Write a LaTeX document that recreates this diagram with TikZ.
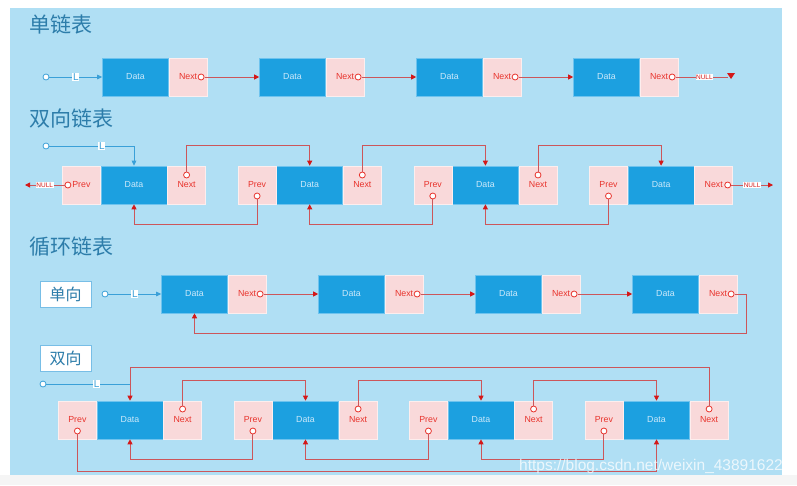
\documentclass[tikz,border=0pt]{standalone}
\usepackage{fontspec}
\setmainfont{Liberation Sans}
\newfontfamily\cjk{Noto Sans CJK SC}
\usetikzlibrary{
    positioning,
    arrows.meta
    }

\definecolor{panel}{RGB}{176,223,244}
\definecolor{bottomgray}{RGB}{245,245,245}
\definecolor{titleblue}{RGB}{45,125,170}
\definecolor{databg}{RGB}{28,160,224}
\definecolor{dataedge}{RGB}{110,195,238}
\definecolor{datatext}{RGB}{205,233,250}
\definecolor{ptrbg}{RGB}{249,217,218}
\definecolor{ptredge}{RGB}{253,238,238}
\definecolor{ptrtext}{RGB}{232,52,45}
\definecolor{linkred}{RGB}{204,86,90}
\definecolor{tipred}{RGB}{212,24,24}
\definecolor{headblue}{RGB}{58,160,216}
\definecolor{boxedge}{RGB}{120,190,230}

\begin{document}
\begin{tikzpicture}[x=1pt, y=-1pt]
\tikzset{data/.style =
        {
            rectangle,
            fill=databg,
            draw=dataedge,
            line width=0.6pt,
            minimum width=66pt,
            minimum height=38pt,
            inner sep=0pt,
            text=datatext,
            font=\fontsize{8.8}{10}\selectfont
        }
}

\tikzset{ptr/.style =
        {
            data,
            fill=ptrbg,
            draw=ptredge,
            minimum width=38pt,
            text=ptrtext
        }
}

\tikzset{port/.style =
        {
            circle,
            draw=ptrtext,
            fill=white,
            line width=0.8pt,
            minimum size=6pt,
            inner sep=0pt
        }
}

\tikzset{link/.style = {
            draw=linkred,
            line width=0.9pt,
            -{Triangle[length=5pt, width=5pt, color=tipred]}
        }
}

\tikzset{head/.style = {
            link,
            draw=headblue,
            -{Triangle[length=5pt, width=4.5pt, color=headblue]}
        }
}

\tikzset{lbl/.style = {
            fill=white,
            text=headblue,
            inner sep=0.8pt,
            font=\fontsize{10}{10}\selectfont
        }
}

\tikzset{nulllbl/.style = {
            fill=white,
            text=tipred,
            inner sep=0.5pt,
            font=\fontsize{6.5}{6.5}\selectfont
        }
}

\tikzset{title/.style = {
            anchor=west,
            inner sep=0pt,
            text=titleblue,
            font=\cjk\fontsize{21}{21}\selectfont
        }
}

\tikzset{tag/.style = {
            rectangle,
            fill=white,
            draw=boxedge,
            line width=0.8pt,
            minimum width=51pt,
            minimum height=26pt,
            text=titleblue,
            font=\cjk\fontsize{16}{16}\selectfont
        }
}

\useasboundingbox (0,0) rectangle (797,485);
\fill[white] (0,0) rectangle (797,485);
\fill[bottomgray] (0,475) rectangle (797,485);
\fill[panel] (10,8) rectangle (782,475);

\node[title] (t-single) at (29,24) {单链表};
\node[title] (t-double) at (29,119) {双向链表};
\node[title] (t-cycle) at (29,247) {循环链表};
\node[tag] (tag-single) at (65.5,294) {单向};
\node[tag] (tag-double) at (65.5,358) {双向};

% single list
\foreach \i in {1,...,4} {
    \node[data] (s-d\i) at ({135.5+157*(\i-1)},77) {Data};
    \node[ptr, right=0pt of s-d\i] (s-n\i) {Next};
    \node[port] (s-c\i) at ([xshift=13pt]s-n\i.center) {};
}
\foreach \i / \j in {1/2, 2/3, 3/4}
\draw[link] (s-c\i) -- (s-d\j);

\node[port, draw=headblue] (s-head) at (46,77) {};
\draw[head] (s-head) -- node[lbl] {L} (s-d1);

\coordinate (s-end) at (728,77);
\draw[link, -] (s-c4) -- node[nulllbl, pos=0.55] {NULL} (s-end);
\fill[tipred] ([shift={(-1,-4)}]s-end) -- ++(8,0) -- ++(-4,6) -- cycle;

% doubly linked list
\foreach \i in {1,...,4} {
    \node[data] (d-d\i) at ({134+175.7*(\i-1)},185) {Data};
    \node[ptr, left=0pt of d-d\i] (d-p\i) {Prev};
    \node[ptr, right=0pt of d-d\i] (d-n\i) {Next};
}
\foreach \i in {1,2,3}
\node[port] (d-nc\i) at ([yshift=10pt]d-n\i.center) {};
\foreach \i in {2,3,4}
\node[port] (d-pc\i) at ([yshift=-11pt]d-p\i.center) {};
\node[port] (d-pc1) at ([xshift=-13.5pt]d-p1.center) {};
\node[port] (d-nc4) at ([xshift=14pt]d-n4.center) {};

\foreach \i / \j in {1/2, 2/3, 3/4} {
    \draw[link] (d-nc\i.north) -- ++(0,-26) -| (d-d\j.north);
    \draw[link] (d-pc\j.south) -- ++(0,25) -| (d-d\i.south);
}

\node[port, draw=headblue] (d-head) at (46,146) {};
\draw[head] (d-head) -| node[lbl, pos=0.31] {L} (d-d1.north);

\coordinate (d-lend) at (25,185);
\coordinate (d-rend) at (773,185);
\draw[link] (d-pc1) -- node[nulllbl] {NULL} (d-lend);
\draw[link] (d-nc4) -- node[nulllbl] {NULL} (d-rend);

% circular, one way
\foreach \i in {1,...,4} {
    \node[data] (c-d\i) at ({194.5+157*(\i-1)},294) {Data};
    \node[ptr, right=0pt of c-d\i] (c-n\i) {Next};
    \node[port] (c-c\i) at ([xshift=13pt]c-n\i.center) {};
}
\foreach \i / \j in {1/2, 2/3, 3/4}
\draw[link] (c-c\i) -- (c-d\j);
\draw[link] (c-c4.east) -- ++(12,0) -- ++(0,39) -| (c-d1.south);

\node[port, draw=headblue] (c-head) at (105,294) {};
\draw[head] (c-head) -- node[lbl] {L} (c-d1);

% circular, two way
\foreach \i in {1,...,4} {
    \node[data] (r-d\i) at ({130+175.5*(\i-1)},420) {Data};
    \node[ptr, left=0pt of r-d\i] (r-p\i) {Prev};
    \node[ptr, right=0pt of r-d\i] (r-n\i) {Next};
    \node[port] (r-nc\i) at ([yshift=11pt]r-n\i.center) {};
    \node[port] (r-pc\i) at ([yshift=-11pt]r-p\i.center) {};
}
\foreach \i / \j in {1/2, 2/3, 3/4} {
    \draw[link] (r-nc\i.north) -- ++(0,-25) -| (r-d\j.north);
    \draw[link] (r-pc\j.south) -- ++(0,25) -| (r-d\i.south);
}
\draw[link] (r-nc4.north) -- ++(0,-38) -| (r-d1.north);
\draw[link] (r-pc1.south) -- ++(0,37) -| (r-d4.south);

\node[port, draw=headblue] (r-head) at (43,384) {};
\draw[head, -] (r-head) -- node[lbl, pos=0.6] {L} (r-head -| r-d1.north);

\node[text=white, opacity=0.75, font=\fontsize{15.5}{16}\selectfont] (mark) at (651,466) {https://blog.csdn.net/weixin\_43891622};
\end{tikzpicture}
\end{document}
